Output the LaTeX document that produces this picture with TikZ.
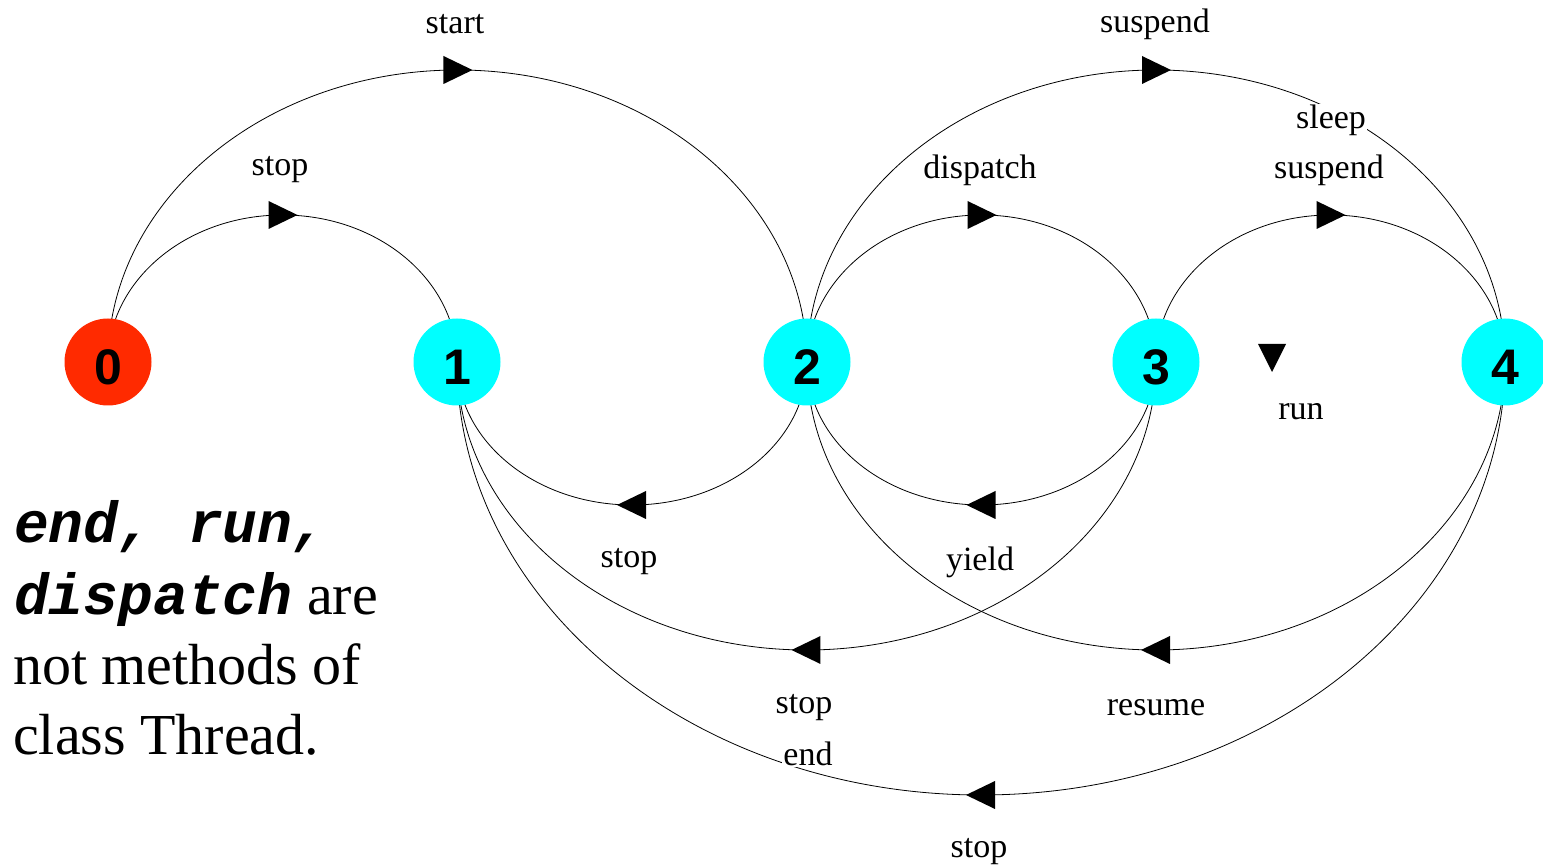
\documentclass[tikz,border=0pt]{standalone}
\usepackage{fontspec}
\setmainfont{Liberation Serif}
\setmonofont{Liberation Mono}
\newfontfamily\digitfont{Liberation Sans}
\usetikzlibrary{decorations.markings,backgrounds}
\definecolor{stred}{HTML}{FF2A00}
\definecolor{stcyan}{HTML}{00FFFF}
\newcommand{\stdigit}[1]{\raisebox{-5pt}[\height][\depth]{#1}}
\tikzset{
  state/.style={circle, minimum size=87pt, inner sep=0pt,
    font=\digitfont\bfseries\fontsize{50}{50}\selectfont},
  tr/.style={draw=black, line width=0.8pt, postaction={decorate},
    decoration={markings, mark=at position 0.5 with
      {\fill[black] (-14pt,14pt) -- (15pt,0pt) -- (-14pt,-14pt) -- cycle;}}},
  lbl/.style={font=\fontsize{34}{34}\selectfont, inner sep=1pt},
  note/.style={font=\fontsize{58}{70}\selectfont, inner sep=0pt, anchor=base west},
}
\begin{document}
\begin{tikzpicture}[x=1pt,y=1pt]
\useasboundingbox (0,0) rectangle (1543,865);
% states
\node[state, fill=stred]  (n0) at (108,503) {\stdigit{0}};
\node[state, fill=stcyan] (n1) at (457,503) {\stdigit{1}};
\node[state, fill=stcyan] (n2) at (807,503) {\stdigit{2}};
\node[state, fill=stcyan] (n3) at (1156,503) {\stdigit{3}};
\node[state, fill=stcyan] (n4) at (1505,503) {\stdigit{4}};
\begin{scope}[on background layer]
  \fill[white] (0,0) rectangle (1543,865);
  % upper transitions (left to right)
  \draw[tr] (n0.center) arc[start angle=180, end angle=0, x radius=174.5pt, y radius=147pt];
  \draw[tr] (n0.center) arc[start angle=180, end angle=0, x radius=349.5pt, y radius=292pt];
  \draw[tr] (n2.center) arc[start angle=180, end angle=0, x radius=174.5pt, y radius=147pt];
  \draw[tr] (n2.center) arc[start angle=180, end angle=0, x radius=349pt, y radius=292pt];
  \draw[tr] (n3.center) arc[start angle=180, end angle=0, x radius=174.5pt, y radius=147pt];
  % lower transitions (right to left)
  \draw[tr] (n2.center) arc[start angle=0, end angle=-180, x radius=175pt, y radius=143pt];
  \draw[tr] (n3.center) arc[start angle=0, end angle=-180, x radius=174.5pt, y radius=143pt];
  \draw[tr] (n3.center) arc[start angle=0, end angle=-180, x radius=349.5pt, y radius=288pt];
  \draw[tr] (n4.center) arc[start angle=0, end angle=-180, x radius=349pt, y radius=288pt];
  \draw[tr] (n4.center) arc[start angle=0, end angle=-180, x radius=524pt, y radius=433pt];
\end{scope}
% run marker
\fill[black] (1258,521) -- (1286,521) -- (1272,493) -- cycle;
% labels
\node[lbl] (lstart) at (455,841) {start};
\node[lbl] (lstop01) at (280,695) {stop};
\node[lbl] (lsusp24) at (1155,841) {suspend};
\node[lbl, fill=white] (lsleep) at (1331,745) {sleep};
\node[lbl] (ldisp) at (980,695) {dispatch};
\node[lbl] (lsusp34) at (1329,695) {suspend};
\node[lbl] (lrun) at (1301,453) {run};
\node[lbl] (lstop21) at (629,303) {stop};
\node[lbl] (lyield) at (980,303) {yield};
\node[lbl] (lstop31) at (804,157) {stop};
\node[lbl] (lresume) at (1156,157) {resume};
\node[lbl, fill=white] (lend) at (808,111) {end};
\node[lbl] (lstop41) at (979,13) {stop};
% note
\node[note] (t1) at (14,322) {\ttfamily\bfseries\itshape end, run,};
\node[note] (t2) at (14,250) {\ttfamily\bfseries\itshape dispatch\rmfamily\mdseries\upshape{} are};
\node[note] (t3) at (13,180) {not methods of};
\node[note] (t4) at (13,110) {class Thread.};
\end{tikzpicture}
\end{document}
